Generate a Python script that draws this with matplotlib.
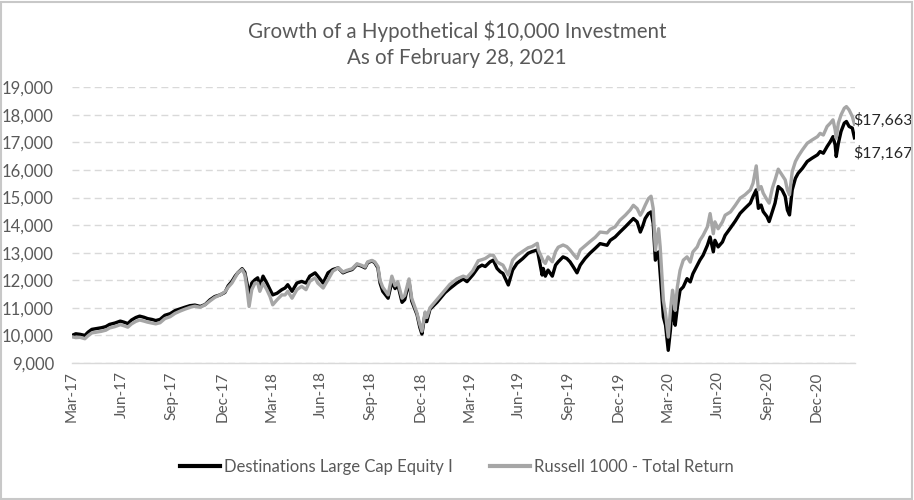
import matplotlib
matplotlib.use("Agg")
import matplotlib.pyplot as plt
import pandas as pd
from matplotlib.patches import Rectangle

plt.rcParams['font.family'] = ['Lato', 'DejaVu Sans']
plt.rcParams['text.parse_math'] = False

title = "Growth of a Hypothetical $10,000 Investment\nAs of February 28, 2021"
fund_name = "Destinations Large Cap Equity I"
index_name = "Russell 1000 - Total Return"

dates = [
    "2017-03-01", "2017-03-08", "2017-03-16", "2017-03-25", "2017-03-31", "2017-04-07", "2017-04-16", "2017-04-25",
    "2017-05-03", "2017-05-10", "2017-05-20", "2017-05-30", "2017-06-06", "2017-06-13", "2017-06-20", "2017-06-28",
    "2017-07-05", "2017-07-13", "2017-07-20", "2017-07-28", "2017-08-04", "2017-08-12", "2017-08-21", "2017-08-31",
    "2017-09-09", "2017-09-18", "2017-09-27", "2017-10-07", "2017-10-16", "2017-10-26", "2017-11-04", "2017-11-13",
    "2017-11-22", "2017-12-02", "2017-12-11", "2017-12-17", "2017-12-24", "2017-12-30", "2018-01-04", "2018-01-12",
    "2018-01-17", "2018-01-21", "2018-01-25", "2018-01-30", "2018-02-05", "2018-02-10", "2018-02-14", "2018-02-20",
    "2018-02-27", "2018-03-05", "2018-03-10", "2018-03-18", "2018-03-27", "2018-04-02", "2018-04-07", "2018-04-15",
    "2018-04-24", "2018-05-03", "2018-05-11", "2018-05-18", "2018-05-28", "2018-06-02", "2018-06-12", "2018-06-21",
    "2018-06-30", "2018-07-10", "2018-07-19", "2018-07-26", "2018-08-05", "2018-08-14", "2018-08-23", "2018-08-29",
    "2018-09-03", "2018-09-11", "2018-09-16", "2018-09-22", "2018-09-26", "2018-10-01", "2018-10-11", "2018-10-18",
    "2018-10-24", "2018-10-29", "2018-11-06", "2018-11-11", "2018-11-19", "2018-11-24", "2018-12-04", "2018-12-09",
    "2018-12-13", "2018-12-19", "2018-12-22", "2018-12-28", "2019-01-10", "2019-01-25", "2019-02-03", "2019-02-16",
    "2019-02-28", "2019-03-07", "2019-03-18", "2019-03-28", "2019-04-04", "2019-04-10", "2019-04-19", "2019-04-25",
    "2019-05-02", "2019-05-08", "2019-05-13", "2019-05-23", "2019-05-31", "2019-06-08", "2019-06-19", "2019-06-29",
    "2019-07-06", "2019-07-16", "2019-07-18", "2019-07-25", "2019-07-27", "2019-07-31", "2019-08-05", "2019-08-13",
    "2019-08-19", "2019-08-24", "2019-09-02", "2019-09-09", "2019-09-15", "2019-09-21", "2019-09-28", "2019-10-04",
    "2019-10-13", "2019-10-22", "2019-11-01", "2019-11-10", "2019-11-23", "2019-11-29", "2019-12-08", "2019-12-17",
    "2019-12-27", "2020-01-05", "2020-01-11", "2020-01-18", "2020-01-24", "2020-01-28", "2020-02-02", "2020-02-08",
    "2020-02-13", "2020-02-17", "2020-02-21", "2020-02-27", "2020-03-01", "2020-03-07", "2020-03-11", "2020-03-16",
    "2020-03-20", "2020-03-24", "2020-03-26", "2020-03-29", "2020-04-02", "2020-04-07", "2020-04-13", "2020-04-20",
    "2020-04-26", "2020-05-01", "2020-05-09", "2020-05-14", "2020-05-20", "2020-05-28", "2020-06-02", "2020-06-08",
    "2020-06-11", "2020-06-17", "2020-06-25", "2020-06-30", "2020-07-10", "2020-07-19", "2020-07-28", "2020-08-06",
    "2020-08-16", "2020-08-21", "2020-08-27", "2020-08-31", "2020-09-05", "2020-09-09", "2020-09-16", "2020-09-20",
    "2020-09-26", "2020-10-01", "2020-10-07", "2020-10-14", "2020-10-20", "2020-10-24", "2020-10-28", "2020-11-02",
    "2020-11-08", "2020-11-13", "2020-11-21", "2020-11-30", "2020-12-09", "2020-12-19", "2020-12-24", "2020-12-30",
    "2021-01-06", "2021-01-12", "2021-01-17", "2021-01-21", "2021-01-23", "2021-01-27", "2021-02-01", "2021-02-07",
    "2021-02-11", "2021-02-16", "2021-02-22", "2021-02-26",
]

fund = [
    10000, 10060, 10040, 10000, 10120, 10220, 10250, 10280,
    10320, 10400, 10450, 10520, 10480, 10430, 10560, 10650,
    10700, 10660, 10610, 10580, 10540, 10580, 10730, 10790,
    10900, 10960, 11020, 11080, 11100, 11050, 11120, 11290,
    11410, 11470, 11560, 11800, 11960, 12150, 12270, 12420,
    12290, 11900, 11470, 11900, 12020, 12090, 11780, 12150,
    11900, 11660, 11470, 11530, 11660, 11720, 11840, 11600,
    11900, 11960, 11900, 12150, 12270, 12150, 11900, 12270,
    12390, 12450, 12270, 12330, 12390, 12575, 12510, 12450,
    12640, 12700, 12640, 12450, 11900, 11600, 11350, 11950,
    11700, 11850, 11200, 11300, 11950, 11250, 10750, 10300,
    10050, 10800, 10500, 10950, 11200, 11550, 11700, 11900,
    12050, 11950, 12200, 12470, 12550, 12500, 12670, 12730,
    12430, 12310, 12250, 11830, 12370, 12610, 12790, 12980,
    13040, 13100, 12910, 12190, 12430, 12150, 12370, 12150,
    12550, 12670, 12850, 12790, 12670, 12490, 12270, 12550,
    12790, 12980, 13160, 13330, 13270, 13450, 13570, 13750,
    13940, 14120, 14240, 14120, 13750, 13940, 14240, 14420,
    14480, 14060, 12730, 13030, 12240, 10670, 10370, 9460,
    10180, 11270, 10670, 10370, 11030, 11640, 11760, 12060,
    11940, 12240, 12540, 12730, 12910, 13270, 13570, 13030,
    13450, 13210, 13390, 13630, 13900, 14150, 14430, 14610,
    14800, 15040, 15280, 14610, 14730, 14490, 14310, 14130,
    14490, 14800, 15400, 15280, 15040, 14550, 14370, 15280,
    15700, 15880, 16060, 16310, 16430, 16550, 16670, 16610,
    16850, 17030, 17210, 16910, 16490, 16970, 17400, 17700,
    17760, 17580, 17520, 17167,
]

index = [
    9950, 9920, 9930, 9880, 9990, 10090, 10120, 10150,
    10190, 10270, 10320, 10390, 10350, 10300, 10420, 10510,
    10560, 10520, 10480, 10450, 10420, 10460, 10610, 10680,
    10800, 10880, 10950, 11020, 11060, 11020, 11110, 11250,
    11380, 11470, 11580, 11750, 11900, 12100, 12270, 12390,
    12210, 11700, 11050, 11660, 11900, 11900, 11600, 11900,
    11660, 11410, 11110, 11290, 11470, 11470, 11600, 11350,
    11660, 11780, 11660, 11960, 12090, 11900, 11720, 12020,
    12330, 12450, 12300, 12360, 12420, 12600, 12540, 12480,
    12670, 12720, 12670, 12500, 12000, 11750, 11470, 12150,
    11800, 11950, 11350, 11450, 12050, 11350, 10800, 10400,
    10150, 10850, 10650, 11000, 11300, 11650, 11850, 12050,
    12150, 12100, 12350, 12710, 12750, 12790, 12910, 12910,
    12670, 12600, 12550, 12190, 12730, 12900, 13050, 13180,
    13220, 13340, 13100, 12790, 12700, 12610, 12850, 12670,
    13040, 13200, 13280, 13220, 13100, 12950, 12790, 13100,
    13250, 13400, 13560, 13750, 13720, 13850, 13940, 14180,
    14360, 14550, 14720, 14600, 14360, 14500, 14720, 14960,
    15050, 14600, 13090, 13870, 13210, 11270, 10790, 9940,
    10900, 11640, 11390, 10910, 11760, 12360, 12730, 12850,
    12660, 13030, 13210, 13450, 13630, 13940, 14420, 13690,
    14120, 13870, 14120, 14360, 14480, 14720, 14980, 15100,
    15280, 15520, 16150, 15280, 15400, 15160, 14920, 14800,
    15340, 15640, 16030, 15820, 15640, 15280, 15100, 15940,
    16310, 16490, 16730, 16970, 17090, 17210, 17330, 17270,
    17580, 17700, 17820, 17460, 17150, 17700, 18000, 18240,
    18300, 18180, 17940, 17663,
]

tick_dates = ["2017-03-01", "2017-06-02", "2017-09-03", "2017-12-06", "2018-03-08", "2018-06-08",
              "2018-09-09", "2018-12-10", "2019-03-11", "2019-06-11", "2019-09-12", "2019-12-14",
              "2020-03-15", "2020-06-16", "2020-09-16", "2020-12-17"]
tick_labels = ["Mar-17", "Jun-17", "Sep-17", "Dec-17", "Mar-18", "Jun-18", "Sep-18", "Dec-18",
               "Mar-19", "Jun-19", "Sep-19", "Dec-19", "Mar-20", "Jun-20", "Sep-20", "Dec-20"]
y_ticks = [9000, 10000, 11000, 12000, 13000, 14000, 15000, 16000, 17000, 18000, 19000]

x = pd.to_datetime(dates)
grey_txt = "#595959"

fig = plt.figure(figsize=(9.14, 5.0), dpi=100)
ax = fig.add_axes([72 / 914, 1 - 363 / 500, (855 - 72) / 914, (363 - 87.3) / 500])

ax.plot(x, fund, color="black", lw=2.4, solid_joinstyle="round", label=fund_name, zorder=3)
ax.plot(x, index, color="#a6a6a6", lw=2.4, solid_joinstyle="round", label=index_name, zorder=4)

ax.set_xlim(pd.Timestamp("2017-03-01"), pd.Timestamp("2021-02-27"))
ax.set_ylim(9000, 19000)
ax.set_yticks(y_ticks)
ax.set_yticklabels([f"{v:,}" for v in y_ticks], fontsize=12, color=grey_txt)
ax.set_xticks(pd.to_datetime(tick_dates))
ax.set_xticklabels(tick_labels, rotation=90, fontsize=11, color=grey_txt)
ax.tick_params(axis="x", length=0, pad=6)
ax.tick_params(axis="y", length=0, pad=13)

for s in ["top", "right", "left"]:
    ax.spines[s].set_visible(False)
ax.spines["bottom"].set_color("#d9d9d9")
ax.spines["bottom"].set_linewidth(1)
ax.yaxis.grid(True, color="#d9d9d9", linestyle=(0, (5, 3)), linewidth=1)
ax.set_axisbelow(True)

ax.annotate(f"${index[-1]:,}", xy=(x[-1], index[-1]), xytext=(-1, 3), textcoords="offset points",
            ha="left", va="center", fontsize=11.5, color="#262626", annotation_clip=False)
ax.annotate(f"${fund[-1]:,}", xy=(x[-1], fund[-1]), xytext=(-1, -11), textcoords="offset points",
            ha="left", va="center", fontsize=11.5, color="#262626", annotation_clip=False)

fig.text(0.5, 1 - 44 / 500, title, ha="center", va="center", fontsize=14.8, color=grey_txt,
         linespacing=1.4)

leg = fig.legend(loc="center", bbox_to_anchor=(0.5, 1 - 467 / 500), ncol=2, frameon=False,
                 fontsize=12, handlelength=2.4, handletextpad=0.25, columnspacing=2.2)
for t in leg.get_texts():
    t.set_color(grey_txt)
for h in leg.legend_handles:
    h.set_linewidth(3)

fig.patches.append(Rectangle((0.001, 0.002), 0.997, 0.995, transform=fig.transFigure,
                             fill=False, edgecolor="#c8c8c8", linewidth=1.5))

fig.savefig("out.png", dpi=100)
